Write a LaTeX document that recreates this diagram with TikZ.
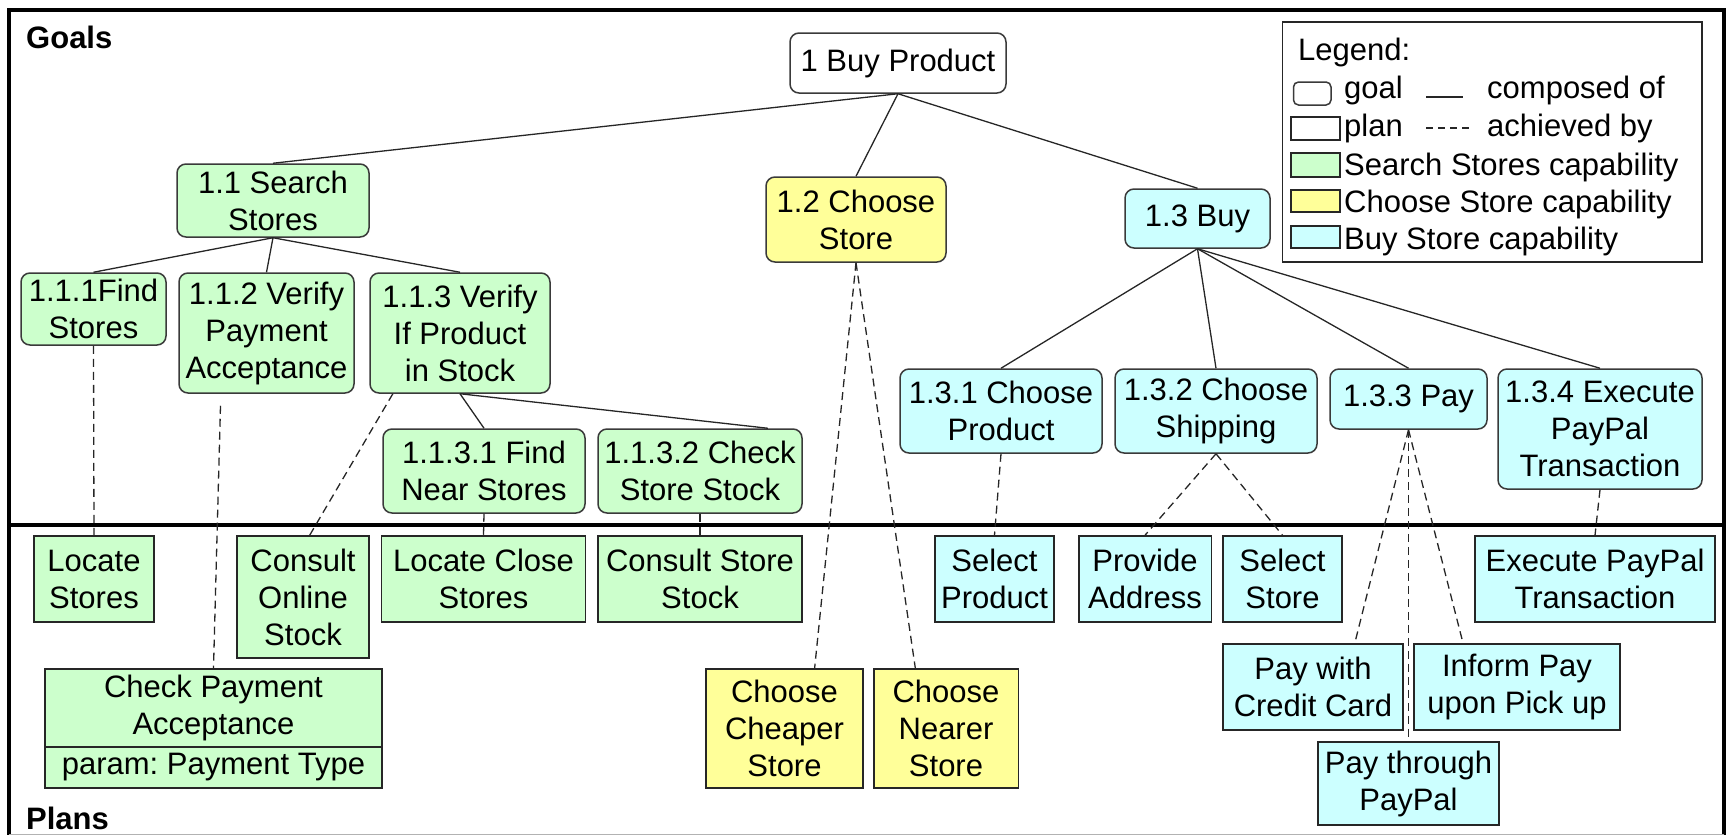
\documentclass[tikz,border=0pt]{standalone}
\usepackage{fontspec}
\setmainfont{Liberation Sans}
\usepackage{tikz}
\usetikzlibrary{positioning, calc}
\definecolor{SearchGreen}{HTML}{CCFFCC}
\definecolor{ChooseYellow}{HTML}{FFFF99}
\definecolor{BuyCyan}{HTML}{CCFFFF}
\definecolor{EdgeGray}{HTML}{3A3A3A}

\tikzset{
  txt/.style={font=\fontsize{31}{37}\selectfont},
  goal/.style={txt, draw=EdgeGray, line width=1.5pt, rounded corners=9pt, inner sep=0pt, align=center},
  plan/.style={txt, draw=black!85, line width=1.5pt, inner sep=0pt, align=center},
  swatch/.style={draw=black!85, line width=1.5pt, inner sep=0pt},
  legtext/.style={txt, anchor=base west, inner sep=0pt},
  composed/.style={line width=1.3pt, draw=black!85},
  achieved/.style={line width=1.3pt, draw=black!85, dash pattern=on 8pt off 5pt},
  box/.style 2 args={minimum width=#1pt, minimum height=#2pt}
}

\begin{document}
\begin{tikzpicture}[x=1pt, y=-1pt]
\useasboundingbox (0,0) rectangle (1727,835);

% frame and the line between goals and plans
\draw[line width=3.5pt] (9,836) -- (9,10) -- (1724,10) -- (1724,836);
\draw[line width=1pt, black!30] (9,834.5) -- (1724,834.5);
\draw[line width=3.5pt] (9,525) -- (1724,525);
\node[txt, font=\fontsize{31}{37}\selectfont\bfseries, anchor=base west, inner sep=0pt] (goalslabel) at (26,48) {Goals};
\node[txt, font=\fontsize{31}{37}\selectfont\bfseries, anchor=base west, inner sep=0pt] (planslabel) at (26,829) {Plans};

% goals
\node[goal, fill=white, box={216}{60}] (g1) at (898,63) {1 Buy Product};
\node[goal, fill=SearchGreen, box={192}{73}] (g11) at (273,200.5) {1.1 Search\\Stores};
\node[goal, fill=ChooseYellow, box={180}{85}] (g12) at (856,219.5) {1.2 Choose\\Store};
\node[goal, fill=BuyCyan, box={145}{59}] (g13) at (1197.5,218.5) {1.3 Buy};
\node[goal, fill=SearchGreen, box={145}{72}] (g111) at (93.5,309) {1.1.1Find\\Stores};
\node[goal, fill=SearchGreen, box={175}{120}] (g112) at (266.5,333) {1.1.2 Verify\\Payment\\Acceptance};
\node[goal, fill=SearchGreen, box={180}{120}] (g113) at (460,333) {1.1.3 Verify\\If Product\\in Stock};
\node[goal, fill=SearchGreen, box={202}{84}] (g1131) at (484,471) {1.1.3.1 Find\\Near Stores};
\node[goal, fill=SearchGreen, box={204}{84}] (g1132) at (700,471) {1.1.3.2 Check\\Store Stock};
\node[goal, fill=BuyCyan, box={202}{84}] (g131) at (1001,411) {1.3.1 Choose\\Product};
\node[goal, fill=BuyCyan, box={202}{84}] (g132) at (1216,411) {1.3.2 Choose\\Shipping};
\node[goal, fill=BuyCyan, box={157}{60}] (g133) at (1408.5,399) {1.3.3 Pay};
\node[goal, fill=BuyCyan, box={204}{120}] (g134) at (1600,429) {1.3.4 Execute\\PayPal\\Transaction};

% plans
\node[plan, fill=SearchGreen, box={120}{86}] (pLocate) at (94,579) {Locate\\Stores};
\node[plan, fill=SearchGreen, box={132}{122}] (pOnline) at (303,597) {Consult\\Online\\Stock};
\node[plan, fill=SearchGreen, box={204}{86}] (pClose) at (483.5,579) {Locate Close\\Stores};
\node[plan, fill=SearchGreen, box={204}{86}] (pStoreStock) at (700,579) {Consult Store\\Stock};
\node[plan, fill=SearchGreen, box={337}{78}] (pCheck) at (213.5,708) {Check Payment\\Acceptance};
\node[plan, fill=SearchGreen, box={337}{41}] (pCheckParam) at (213.5,767.5) {param:\ Payment Type};
\node[plan, fill=ChooseYellow, box={157}{119}] (pCheaper) at (784.5,728.5) {Choose\\Cheaper\\Store};
\node[plan, fill=ChooseYellow, box={144.5}{119}] (pNearer) at (946,728.5) {Choose\\Nearer\\Store};
\node[plan, fill=BuyCyan, box={119}{86}] (pSelProduct) at (994.5,579) {Select\\Product};
\node[plan, fill=BuyCyan, box={132.5}{86}] (pAddress) at (1145,579) {Provide\\Address};
\node[plan, fill=BuyCyan, box={119}{86}] (pSelStore) at (1282.5,579) {Select\\Store};
\node[plan, fill=BuyCyan, box={240}{86}] (pExecute) at (1595,579) {Execute PayPal\\Transaction};
\node[plan, fill=BuyCyan, box={180}{86}] (pCredit) at (1313,687) {Pay with\\Credit Card};
\node[plan, fill=BuyCyan, box={206}{86}] (pInform) at (1517,687) {Inform Pay\\upon Pick up};
\node[plan, fill=BuyCyan, box={181}{83}] (pPaypal) at (1408.5,783.5) {Pay through\\PayPal};

% composed of
\draw[composed] (g1.south) -- (g11.north);
\draw[composed] (g1.south) -- (g12.north);
\draw[composed] (g1.south) -- (g13.north);
\draw[composed] (g11.south) -- (g111.north);
\draw[composed] (g11.south) -- (g112.north);
\draw[composed] (g11.south) -- (g113.north);
\draw[composed] (g113.south) -- (g1131.north);
\draw[composed] (g113.south) -- ($(g1132.north west)!0.83!(g1132.north east)$);
\draw[composed] (g13.south) -- (g131.north);
\draw[composed] (g13.south) -- (g132.north);
\draw[composed] (g13.south) -- (g133.north);
\draw[composed] (g13.south) -- (g134.north);

% achieved by
\coordinate (c112) at ($(g112.south)+(-46,12)$);
\draw[achieved] (g111.south) -- (pLocate.north);
\draw[achieved] (c112) -- (pCheck.north);
\draw[achieved] ($(g113.south west)!0.13!(g113.south east)$) -- ($(pOnline.north west)!0.55!(pOnline.north east)$);
\draw[achieved] (g1131.south) -- (pClose.north);
\draw[achieved] (g1132.south) -- (pStoreStock.north);
\draw[achieved] (g12.south) -- ($(pCheaper.north west)!0.69!(pCheaper.north east)$);
\draw[achieved] (g12.south) -- ($(pNearer.north west)!0.29!(pNearer.north east)$);
\draw[achieved] (g131.south) -- (pSelProduct.north);
\draw[achieved] (g132.south) -- (pAddress.north);
\draw[achieved] (g132.south) -- (pSelStore.north);
\draw[achieved] (g133.south) -- ($(pCredit.north west)!0.73!(pCredit.north east)$);
\draw[achieved] (g133.south) -- (pPaypal.north);
\draw[achieved] (g133.south) -- ($(pInform.north west)!0.24!(pInform.north east)$);
\draw[achieved] (g134.south) -- (pExecute.north);

% legend
\node[swatch, fill=white, box={419.5}{240}] (legend) at (1492.25,142) {};
\node[legtext] (legtitle) at (1298,60) {Legend:};
\node[swatch, draw=EdgeGray, rounded corners=5pt, box={37.5}{23}] (leggoal) at (1312.25,93.5) {};
\node[legtext] (leggoaltext) at (1344,98) {goal};
\coordinate (legsolidA) at (1426,97);
\coordinate (legsolidB) at (1463,97);
\draw[composed] (legsolidA) -- (legsolidB);
\node[legtext] (legcomposed) at (1487,98) {composed of};
\node[swatch, fill=white, box={49}{23}] (legplan) at (1315.5,128.5) {};
\node[legtext] (legplantext) at (1344,136) {plan};
\coordinate (legdashA) at (1426,128);
\coordinate (legdashB) at (1472,128);
\draw[achieved, dash pattern=on 7pt off 5pt] (legdashA) -- (legdashB);
\node[legtext] (legachieved) at (1487,136) {achieved by};
\node[swatch, fill=SearchGreen, box={49}{24}] (legsearch) at (1315.5,165) {};
\node[legtext] (legsearchtext) at (1344,175) {Search Stores capability};
\node[swatch, fill=ChooseYellow, box={49}{22}] (legchoose) at (1315.5,201) {};
\node[legtext] (legchoosetext) at (1344,212) {Choose Store capability};
\node[swatch, fill=BuyCyan, box={49}{22}] (legbuy) at (1315.5,237) {};
\node[legtext] (legbuytext) at (1344,249) {Buy Store capability};
\end{tikzpicture}
\end{document}
